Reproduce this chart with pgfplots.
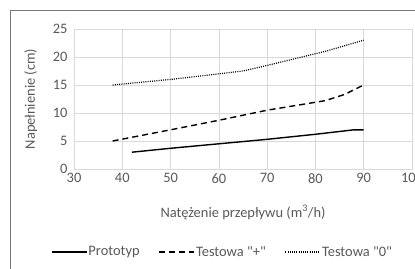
\documentclass[border=0pt]{standalone}
\usepackage{pgfplots}
\pgfplotsset{compat=1.18}
\usepackage{fontspec}
\setmainfont{Carlito}
\definecolor{txt}{HTML}{595959}
\definecolor{grd}{HTML}{D9D9D9}
\begin{document}
\begin{tikzpicture}[x=1bp,y=1bp]
\draw[color=txt!80, line width=0.8bp] (10,-20) rectangle (440,259);
\begin{axis}[
  at={(74bp,100bp)}, anchor=south west,
  scale only axis, width=338bp, height=140bp,
  xmin=30, xmax=100, ymin=0, ymax=25,
  xtick={30,40,...,100}, ytick={0,5,...,25},
  grid=major, major grid style={grd, line width=0.7bp},
  axis line style={grd, line width=0.7bp},
  tick style={draw=none},
  font=\fontsize{14.5}{16}\selectfont,
  tick label style={txt, font=\fontsize{14.5}{16}\selectfont},
  /pgf/number format/assume math mode=true,
  yticklabel style={xshift=-3bp},
  xticklabel style={yshift=-1bp},
  xlabel={Natężenie przepływu (m\textsuperscript{3}/h)},
  ylabel={Napełnienie (cm)},
  label style={txt, font=\fontsize{14.5}{16}\selectfont},
  xlabel style={at={(rel axis cs:0.5,-0.31)}, anchor=center},
  ylabel style={at={(rel axis cs:-0.128,0.5)}, anchor=center},
  legend columns=3,
  legend style={draw=none, fill=none, at={(0.438,-0.593)}, anchor=center,
    font=\fontsize{14.5}{16}\selectfont, text=txt,
    nodes={inner xsep=1bp},
    /tikz/every even column/.append style={column sep=18bp}},
  legend image code/.code={\draw[#1] (0bp,0bp) -- (35bp,0bp);},
]
\addplot[black, line width=1.4bp] coordinates {(42,3) (50,3.7) (60,4.5) (70,5.3) (80,6.2) (88,7) (90,7)};
\addlegendentry{Prototyp}
\addplot[black, line width=1.4bp, dash pattern=on 6bp off 4bp] coordinates {(38,5) (50,7) (60,8.7) (70,10.5) (82,12.2) (86,13.3) (90,15)};
\addlegendentry{Testowa \textquotedbl+\textquotedbl}
\addplot[black, line width=1.2bp, dash pattern=on 1bp off 1.2bp] coordinates {(38,15) (50,16) (60,17) (65,17.5) (70,18.5) (82,21) (90,23)};
\addlegendentry{Testowa \textquotedbl0\textquotedbl}
\end{axis}
\pgfresetboundingbox
\useasboundingbox (0,0) rectangle (415,269);
\end{tikzpicture}
\end{document}
